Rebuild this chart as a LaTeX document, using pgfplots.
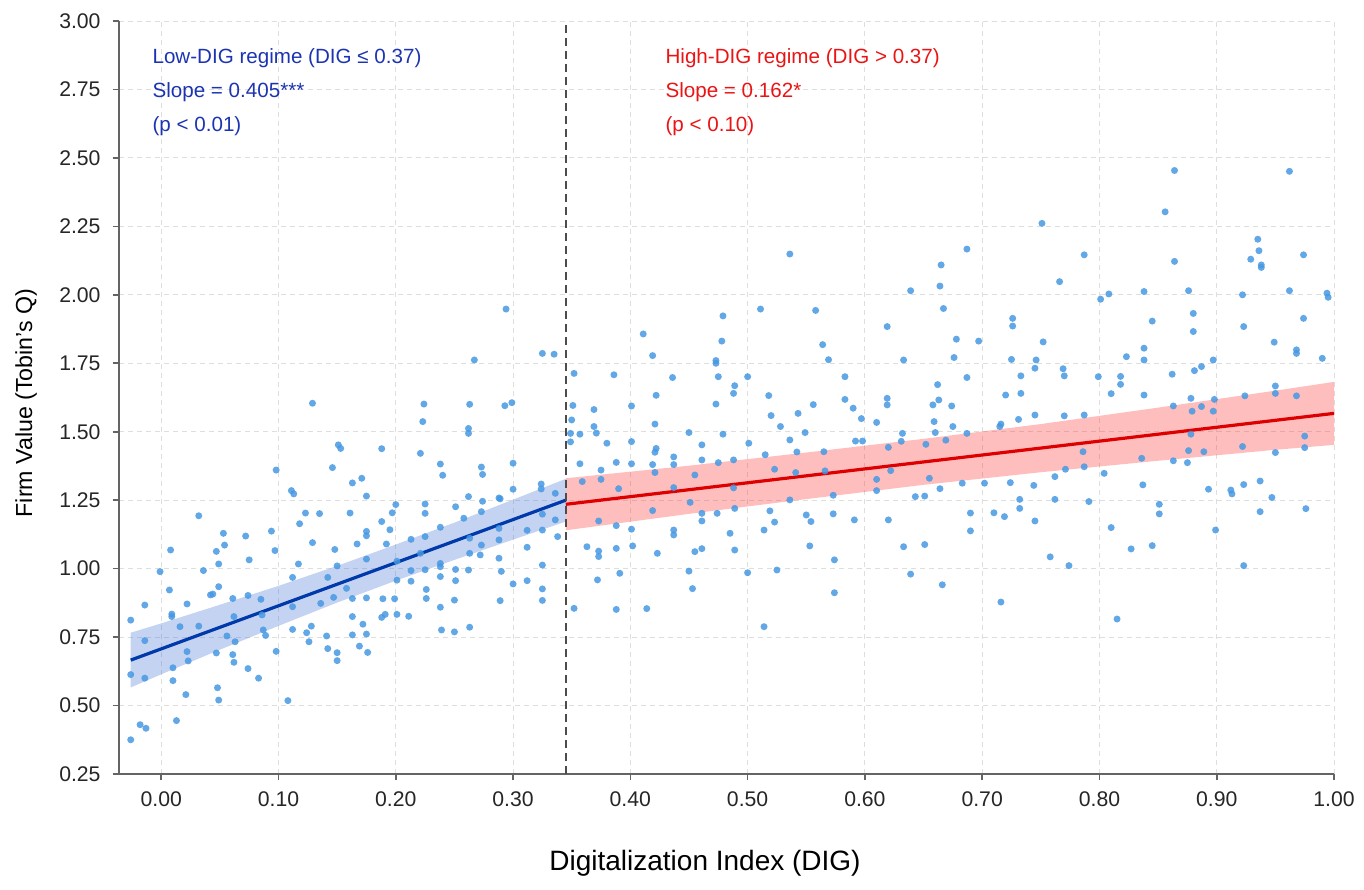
\documentclass[border=0pt]{standalone}
\usepackage{pgfplots}
\pgfplotsset{compat=1.18}
\usepgfplotslibrary{fillbetween}
\usepackage{fontspec}
\setmainfont{Liberation Sans}
\definecolor{dotblue}{RGB}{70,152,226}
\definecolor{lineblue}{RGB}{0,58,170}
\definecolor{bandblue}{RGB}{60,110,210}
\definecolor{linered}{RGB}{222,0,0}
\definecolor{bandred}{RGB}{255,40,40}
\definecolor{txtblue}{RGB}{28,52,178}
\definecolor{txtred}{RGB}{235,20,20}
\definecolor{spine}{RGB}{100,100,100}
\begin{document}
\begin{tikzpicture}
\begin{axis}[
  at={(0,0)}, anchor=south west,
  scale only axis, width=607.5pt, height=376.5pt,
  xmin=-0.036, xmax=1.0, ymin=0.25, ymax=3.0,
  axis x line=bottom, axis y line=left,
  axis line style={spine, line width=0.8pt, -},
  tick style={spine, line width=0.8pt},
  tick align=outside, major tick length=3.2pt,
  xtick={0,0.1,0.2,0.3,0.4,0.5,0.6,0.7,0.8,0.9,1.0},
  ytick={0.25,0.5,0.75,1.0,1.25,1.5,1.75,2.0,2.25,2.5,2.75,3.0},
  /pgf/number format/.cd, fixed, fixed zerofill, precision=2, assume math mode=true,
  /pgfplots/.cd,
  ticklabel style={font=\fontsize{10.6}{12}\selectfont, text=black!85},
  xticklabel style={yshift=-2pt},
  yticklabel style={xshift=-2.5pt},
  grid=major,
  major grid style={dash pattern=on 2.5pt off 2pt, color=black!13, line width=0.45pt},
  xlabel={Digitalization Index (DIG)},
  ylabel={Firm Value (Tobin's Q)},
  xlabel style={at={(axis description cs:0.4823,-0.1288)}, anchor=base, font=\fontsize{14}{16}\selectfont},
  ylabel style={at={(axis description cs:-0.0716,0.4927)}, rotate=0, anchor=base, font=\fontsize{11.6}{14}\selectfont},
  clip=true,
]
% scatter
\addplot[only marks, mark=*, mark size=1.75pt, color=dotblue, mark options={draw opacity=0, fill opacity=0.85}] table[row sep=\\] {
x y\\
0.267 1.762\\ 0.325 1.786\\ 0.335 1.783\\ 0.129 1.604\\ 0.224 1.601\\ 0.263 1.600\\ 0.293 1.595\\ 0.299 1.606\\
0.223 1.537\\ 0.262 1.512\\ 0.262 1.494\\ 0.151 1.452\\ 0.153 1.439\\ 0.188 1.438\\ 0.221 1.421\\ 0.098 1.360\\
0.146 1.369\\ 0.238 1.382\\ 0.273 1.371\\ 0.274 1.344\\ 0.240 1.341\\ 0.300 1.385\\ 0.171 1.330\\ 0.163 1.313\\
0.324 1.309\\ 0.300 1.290\\ 0.111 1.285\\ 0.113 1.273\\ 0.175 1.265\\ 0.262 1.263\\ 0.288 1.258\\ 0.032 1.193\\
0.135 1.201\\ 0.161 1.203\\ 0.123 1.203\\ 0.200 1.234\\ 0.225 1.236\\ 0.225 1.202\\ 0.251 1.226\\ 0.274 1.246\\
0.289 1.255\\ 0.197 1.204\\ 0.324 1.291\\ 0.336 1.275\\ 0.118 1.164\\ 0.188 1.172\\ 0.195 1.142\\ 0.175 1.136\\
0.175 1.120\\ 0.258 1.184\\ 0.273 1.208\\ 0.288 1.147\\ 0.288 1.105\\ 0.312 1.140\\ 0.325 1.141\\ 0.338 1.117\\
0.336 1.178\\ 0.325 1.199\\ 0.053 1.129\\ 0.072 1.119\\ 0.094 1.137\\ 0.054 1.086\\ 0.129 1.095\\ 0.148 1.070\\
0.167 1.090\\ 0.192 1.090\\ 0.213 1.107\\ 0.225 1.117\\ 0.238 1.151\\ 0.263 1.111\\ 0.273 1.086\\ 0.008 1.068\\
0.097 1.066\\ 0.047 1.063\\ 0.075 1.032\\ 0.049 1.017\\ 0.117 1.017\\ 0.150 1.010\\ 0.201 1.027\\ 0.221 1.056\\
0.238 1.019\\ 0.238 1.007\\ 0.251 0.997\\ 0.262 0.995\\ 0.263 1.056\\ 0.272 1.050\\ 0.288 1.038\\ 0.290 0.990\\
0.312 1.078\\ 0.325 1.013\\ -0.001 0.989\\ 0.036 0.993\\ 0.112 0.968\\ 0.142 0.968\\ 0.175 1.035\\ 0.225 0.996\\
0.213 0.993\\ 0.007 0.922\\ 0.042 0.904\\ 0.049 0.934\\ 0.044 0.907\\ 0.022 0.871\\ 0.061 0.891\\ 0.074 0.902\\
0.085 0.888\\ -0.014 0.867\\ -0.026 0.812\\ 0.009 0.834\\ 0.009 0.825\\ 0.016 0.788\\ 0.032 0.790\\ 0.062 0.825\\
0.086 0.831\\ 0.112 0.861\\ 0.136 0.873\\ 0.147 0.895\\ 0.158 0.928\\ 0.163 0.891\\ 0.175 0.893\\ 0.189 0.890\\
0.199 0.890\\ 0.201 0.958\\ 0.213 0.954\\ 0.226 0.924\\ 0.226 0.891\\ 0.238 0.971\\ 0.251 0.956\\ 0.289 0.883\\
0.300 0.944\\ 0.312 0.956\\ 0.325 0.926\\ 0.325 0.884\\ 0.250 0.885\\ 0.238 0.859\\ 0.056 0.754\\ 0.063 0.733\\
0.089 0.756\\ 0.087 0.776\\ 0.112 0.778\\ 0.128 0.790\\ 0.124 0.766\\ 0.141 0.754\\ 0.126 0.733\\ 0.142 0.708\\
0.163 0.825\\ 0.163 0.758\\ 0.175 0.761\\ 0.172 0.797\\ 0.188 0.822\\ 0.191 0.833\\ 0.201 0.833\\ 0.211 0.826\\
0.169 0.717\\ 0.176 0.694\\ 0.150 0.693\\ 0.150 0.664\\ 0.098 0.698\\ 0.239 0.776\\ 0.250 0.769\\ 0.263 0.786\\
-0.014 0.737\\ 0.022 0.697\\ 0.023 0.663\\ 0.047 0.692\\ 0.061 0.686\\ 0.062 0.658\\ 0.074 0.635\\ 0.083 0.600\\
0.010 0.638\\ 0.010 0.591\\ -0.014 0.600\\ -0.026 0.613\\ 0.021 0.540\\ 0.048 0.565\\ 0.049 0.520\\ 0.108 0.518\\
0.013 0.445\\ -0.018 0.430\\ -0.013 0.417\\ -0.026 0.375\\ 0.294 1.948\\
0.536 2.149\\ 0.665 2.109\\ 0.664 2.032\\ 0.667 1.950\\ 0.639 2.015\\ 0.511 1.948\\ 0.558 1.943\\ 0.479 1.923\\
0.411 1.857\\ 0.478 1.831\\ 0.619 1.884\\ 0.564 1.818\\ 0.419 1.778\\ 0.569 1.763\\ 0.633 1.762\\ 0.678 1.838\\
0.676 1.771\\ 0.473 1.760\\ 0.473 1.750\\ 0.352 1.713\\ 0.386 1.708\\ 0.436 1.698\\ 0.500 1.701\\ 0.475 1.701\\
0.583 1.701\\ 0.489 1.668\\ 0.488 1.640\\ 0.662 1.672\\ 0.663 1.616\\ 0.658 1.598\\ 0.422 1.633\\ 0.518 1.632\\
0.473 1.601\\ 0.556 1.599\\ 0.583 1.618\\ 0.619 1.622\\ 0.619 1.598\\ 0.674 1.594\\ 0.401 1.594\\ 0.369 1.581\\
0.351 1.596\\ 0.350 1.543\\ 0.349 1.494\\ 0.357 1.491\\ 0.371 1.495\\ 0.369 1.519\\ 0.421 1.528\\ 0.450 1.497\\
0.479 1.491\\ 0.501 1.458\\ 0.528 1.519\\ 0.520 1.559\\ 0.543 1.567\\ 0.549 1.497\\ 0.590 1.586\\ 0.597 1.548\\
0.610 1.534\\ 0.632 1.494\\ 0.660 1.497\\ 0.659 1.537\\ 0.675 1.519\\ 0.380 1.458\\ 0.349 1.463\\ 0.401 1.464\\
0.422 1.439\\ 0.421 1.425\\ 0.461 1.452\\ 0.536 1.470\\ 0.592 1.466\\ 0.598 1.466\\ 0.631 1.465\\ 0.357 1.383\\
0.375 1.360\\ 0.388 1.388\\ 0.401 1.383\\ 0.419 1.380\\ 0.437 1.408\\ 0.437 1.380\\ 0.461 1.397\\ 0.475 1.387\\
0.488 1.397\\ 0.515 1.416\\ 0.542 1.426\\ 0.565 1.427\\ 0.620 1.443\\ 0.652 1.454\\ 0.669 1.469\\ 0.359 1.318\\
0.375 1.326\\ 0.390 1.292\\ 0.421 1.351\\ 0.455 1.342\\ 0.523 1.363\\ 0.541 1.351\\ 0.566 1.357\\ 0.610 1.326\\
0.622 1.358\\ 0.655 1.330\\ 0.437 1.296\\ 0.451 1.242\\ 0.488 1.295\\ 0.489 1.220\\ 0.474 1.202\\ 0.461 1.202\\
0.461 1.174\\ 0.388 1.157\\ 0.373 1.174\\ 0.401 1.144\\ 0.419 1.212\\ 0.523 1.170\\ 0.519 1.211\\ 0.536 1.251\\
0.550 1.196\\ 0.554 1.172\\ 0.573 1.200\\ 0.591 1.178\\ 0.620 1.178\\ 0.643 1.263\\ 0.651 1.265\\ 0.664 1.292\\
0.610 1.285\\ 0.573 1.268\\ 0.363 1.080\\ 0.373 1.064\\ 0.373 1.044\\ 0.388 1.074\\ 0.402 1.083\\ 0.423 1.056\\
0.455 1.062\\ 0.461 1.073\\ 0.489 1.068\\ 0.485 1.129\\ 0.437 1.141\\ 0.437 1.123\\ 0.514 1.141\\ 0.553 1.083\\
0.574 1.032\\ 0.633 1.080\\ 0.651 1.088\\ 0.372 0.959\\ 0.391 0.983\\ 0.450 0.991\\ 0.453 0.927\\ 0.500 0.985\\
0.525 0.995\\ 0.574 0.912\\ 0.639 0.980\\ 0.666 0.941\\ 0.352 0.855\\ 0.388 0.851\\ 0.414 0.854\\ 0.514 0.788\\
0.864 2.454\\ 0.962 2.451\\ 0.856 2.303\\ 0.751 2.261\\ 0.935 2.203\\ 0.687 2.167\\ 0.787 2.146\\ 0.864 2.122\\
0.974 2.146\\ 0.936 2.161\\ 0.929 2.130\\ 0.938 2.109\\ 0.938 2.100\\ 0.766 2.048\\ 0.801 1.984\\ 0.808 2.003\\
0.838 2.012\\ 0.876 2.015\\ 0.922 2.000\\ 0.962 2.015\\ 0.994 2.006\\ 0.995 1.991\\ 0.880 1.932\\ 0.845 1.904\\
0.726 1.914\\ 0.726 1.886\\ 0.923 1.884\\ 0.974 1.914\\ 0.880 1.866\\ 0.697 1.831\\ 0.752 1.828\\ 0.949 1.827\\
0.968 1.799\\ 0.968 1.786\\ 0.725 1.764\\ 0.746 1.762\\ 0.823 1.774\\ 0.838 1.805\\ 0.838 1.762\\ 0.897 1.762\\
0.990 1.768\\ 0.687 1.698\\ 0.733 1.704\\ 0.745 1.732\\ 0.769 1.730\\ 0.770 1.704\\ 0.799 1.701\\ 0.818 1.702\\
0.818 1.673\\ 0.862 1.710\\ 0.881 1.723\\ 0.887 1.738\\ 0.720 1.634\\ 0.733 1.640\\ 0.810 1.639\\ 0.838 1.634\\
0.745 1.561\\ 0.731 1.545\\ 0.787 1.561\\ 0.770 1.558\\ 0.716 1.528\\ 0.715 1.519\\ 0.687 1.494\\ 0.950 1.667\\
0.924 1.631\\ 0.968 1.631\\ 0.950 1.640\\ 0.878 1.622\\ 0.898 1.618\\ 0.887 1.592\\ 0.863 1.594\\ 0.879 1.575\\
0.897 1.575\\ 0.702 1.312\\ 0.683 1.312\\ 0.724 1.314\\ 0.762 1.336\\ 0.771 1.363\\ 0.787 1.372\\ 0.786 1.427\\
0.804 1.348\\ 0.744 1.304\\ 0.837 1.306\\ 0.863 1.394\\ 0.876 1.431\\ 0.889 1.427\\ 0.922 1.446\\ 0.950 1.424\\
0.975 1.442\\ 0.975 1.484\\ 0.878 1.491\\ 0.836 1.403\\ 0.875 1.387\\ 0.732 1.253\\ 0.732 1.220\\ 0.762 1.253\\
0.791 1.245\\ 0.851 1.235\\ 0.851 1.200\\ 0.893 1.290\\ 0.912 1.287\\ 0.913 1.273\\ 0.923 1.307\\ 0.937 1.320\\
0.947 1.260\\ 0.937 1.208\\ 0.976 1.219\\ 0.690 1.203\\ 0.710 1.204\\ 0.719 1.190\\ 0.745 1.174\\ 0.690 1.138\\
0.810 1.150\\ 0.899 1.141\\ 0.827 1.072\\ 0.845 1.084\\ 0.758 1.043\\ 0.774 1.011\\ 0.923 1.011\\ 0.716 0.878\\
0.815 0.816\\
};
% blue confidence band
\addplot[name path=bu, draw=none] coordinates {(-0.026,0.766)(0.0,0.800)(0.05,0.868)(0.1,0.937)(0.15,1.010)(0.2,1.088)(0.25,1.168)(0.3,1.252)(0.345,1.328)};
\addplot[name path=bl, draw=none] coordinates {(-0.026,0.566)(0.0,0.614)(0.05,0.704)(0.1,0.791)(0.15,0.876)(0.2,0.956)(0.25,1.032)(0.3,1.106)(0.345,1.172)};
\addplot[bandblue, fill opacity=0.3, draw=none] fill between[of=bu and bl];
% red confidence band
\addplot[name path=ru, draw=none] coordinates {(0.345,1.330)(0.45,1.376)(0.55,1.424)(0.65,1.474)(0.75,1.528)(0.85,1.588)(0.95,1.650)(1.0,1.682)};
\addplot[name path=rl, draw=none] coordinates {(0.345,1.140)(0.45,1.200)(0.55,1.254)(0.65,1.306)(0.75,1.352)(0.85,1.394)(0.95,1.434)(1.0,1.452)};
\addplot[bandred, fill opacity=0.3, draw=none] fill between[of=ru and rl];
% fitted lines
\addplot[lineblue, line width=1.6pt] coordinates {(-0.026,0.666)(0.345,1.250)};
\addplot[linered, line width=1.6pt] coordinates {(0.345,1.235)(1.0,1.567)};
% threshold
\addplot[black!70, line width=0.9pt, dash pattern=on 4pt off 2.5pt] coordinates {(0.345,0.25)(0.345,3.0)};
% annotations
\node[anchor=base west, text=txtblue, font=\fontsize{10.3}{12}\selectfont, inner sep=0pt] at (axis cs:-0.0077,2.843) {Low-DIG regime (DIG ≤ 0.37)};
\node[anchor=base west, text=txtblue, font=\fontsize{10.3}{12}\selectfont, inner sep=0pt] at (axis cs:-0.0077,2.719) {Slope = 0.405***};
\node[anchor=base west, text=txtblue, font=\fontsize{10.3}{12}\selectfont, inner sep=0pt] at (axis cs:-0.0077,2.598) {(p < 0.01)};
\node[anchor=base west, text=txtred, font=\fontsize{10.3}{12}\selectfont, inner sep=0pt] at (axis cs:0.4297,2.843) {High-DIG regime (DIG > 0.37)};
\node[anchor=base west, text=txtred, font=\fontsize{10.3}{12}\selectfont, inner sep=0pt] at (axis cs:0.4297,2.719) {Slope = 0.162*};
\node[anchor=base west, text=txtred, font=\fontsize{10.3}{12}\selectfont, inner sep=0pt] at (axis cs:0.4297,2.598) {(p < 0.10)};
\end{axis}
\pgfresetboundingbox
\path (-59.5pt,-57.5pt) rectangle (622.5pt,387pt);
\end{tikzpicture}
\end{document}
